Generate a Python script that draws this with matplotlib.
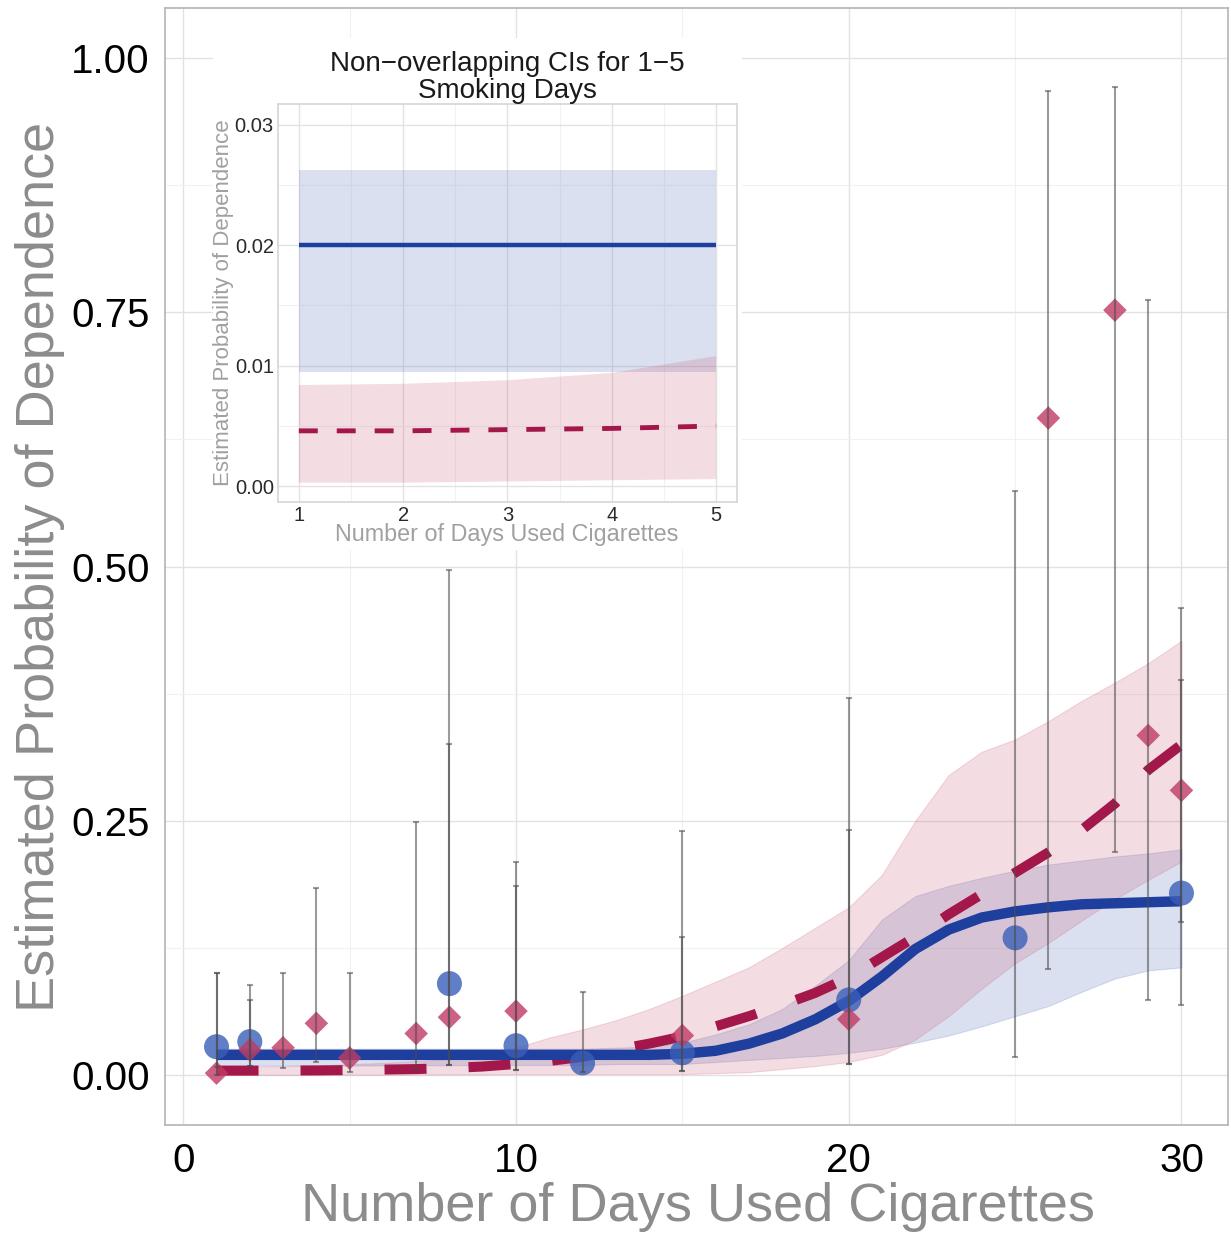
import numpy as np
import matplotlib
matplotlib.use("Agg")
import matplotlib.pyplot as plt
from matplotlib.ticker import MultipleLocator
from matplotlib.patches import Rectangle

plt.rcParams['font.family'] = ['Liberation Sans', 'DejaVu Sans']

# observed proportions with CIs (blue group)
days_blue = [1, 2, 8, 10, 12, 15, 20, 25, 30]
prob_blue = [0.028, 0.033, 0.090, 0.029, 0.012, 0.022, 0.074, 0.135, 0.179]
lo_blue = [0.008, 0.009, 0.010, 0.005, 0.003, 0.004, 0.011, 0.018, 0.069]
hi_blue = [0.100, 0.089, 0.497, 0.186, 0.082, 0.136, 0.371, 0.574, 0.388]

# observed proportions with CIs (red group)
days_red = [1, 2, 3, 4, 5, 7, 8, 10, 15, 20, 26, 28, 29, 30]
prob_red = [0.002, 0.025, 0.027, 0.051, 0.017, 0.041, 0.057, 0.063, 0.039, 0.055, 0.646, 0.752, 0.334, 0.280]
lo_red = [0.000, 0.009, 0.007, 0.013, 0.003, 0.006, 0.010, 0.005, 0.004, 0.011, 0.104, 0.219, 0.074, 0.151]
hi_red = [0.100, 0.074, 0.100, 0.184, 0.100, 0.249, 0.326, 0.210, 0.240, 0.241, 0.967, 0.971, 0.762, 0.459]

# fitted curves and bands
fit_days = list(range(1, 31))
fit_blue = [0.020, 0.020, 0.020, 0.020, 0.020, 0.020, 0.020, 0.020, 0.020, 0.020,
            0.020, 0.020, 0.020, 0.020, 0.021, 0.024, 0.031, 0.041, 0.055, 0.073,
            0.097, 0.124, 0.143, 0.155, 0.161, 0.165, 0.168, 0.169, 0.170, 0.171]
band_blue_lo = [0.0095, 0.0095, 0.0095, 0.0095, 0.0095, 0.0096, 0.0097, 0.0098, 0.0099, 0.010,
                0.010, 0.010, 0.011, 0.011, 0.011, 0.013, 0.015, 0.017, 0.019, 0.022,
                0.026, 0.032, 0.039, 0.048, 0.058, 0.068, 0.082, 0.095, 0.103, 0.106]
band_blue_hi = [0.026, 0.026, 0.026, 0.026, 0.026, 0.026, 0.026, 0.026, 0.026, 0.026,
                0.026, 0.026, 0.027, 0.028, 0.032, 0.040, 0.050, 0.065, 0.088, 0.113,
                0.153, 0.176, 0.186, 0.194, 0.201, 0.207, 0.211, 0.215, 0.218, 0.222]
fit_red = [0.0045, 0.0045, 0.0046, 0.0047, 0.0050, 0.0055, 0.0060, 0.0070, 0.0085, 0.011,
           0.014, 0.018, 0.025, 0.031, 0.038, 0.048, 0.058, 0.069, 0.081, 0.096,
           0.116, 0.136, 0.158, 0.178, 0.199, 0.219, 0.241, 0.267, 0.300, 0.325]
band_red_lo = [0.0003, 0.0003, 0.0003, 0.0004, 0.0005, 0.0005, 0.0006, 0.0007, 0.0008, 0.001,
               0.001, 0.001, 0.001, 0.001, 0.001, 0.002, 0.003, 0.006, 0.009, 0.013,
               0.020, 0.035, 0.058, 0.085, 0.110, 0.130, 0.152, 0.173, 0.192, 0.210]
band_red_hi = [0.0084, 0.0085, 0.0088, 0.0094, 0.0108, 0.012, 0.014, 0.016, 0.020, 0.027,
               0.037, 0.045, 0.054, 0.065, 0.078, 0.092, 0.106, 0.125, 0.145, 0.165,
               0.197, 0.250, 0.295, 0.318, 0.330, 0.348, 0.368, 0.386, 0.405, 0.427]

# inset: 1-5 smoking days
inset_days = [1, 2, 3, 4, 5]
inset_blue = [0.0200, 0.0200, 0.0200, 0.0200, 0.0200]
inset_blue_lo = [0.0095, 0.0095, 0.0095, 0.0095, 0.0095]
inset_blue_hi = [0.0262, 0.0262, 0.0262, 0.0262, 0.0262]
inset_red = [0.0046, 0.0046, 0.0047, 0.0048, 0.0050]
inset_red_lo = [0.0003, 0.0003, 0.0004, 0.0005, 0.0006]
inset_red_hi = [0.0084, 0.0085, 0.0088, 0.0094, 0.0108]

BLUE_LINE = '#1f3f9f'
BLUE_PT = '#3a5fb8'
BLUE_BAND = '#6f86c4'
RED_LINE = '#a3174a'
RED_PT = '#c03a64'
RED_BAND = '#c8566f'


def style_axes(ax, spine_color):
    ax.set_facecolor('white')
    ax.grid(True, which='major', color='#e2e2e2', lw=1.0)
    ax.grid(True, which='minor', color='#f1f1f1', lw=0.8)
    ax.set_axisbelow(True)
    ax.tick_params(which='both', length=0)
    for s in ax.spines.values():
        s.set_color(spine_color)
        s.set_linewidth(1.2)


fig = plt.figure(figsize=(12.31, 12.34), dpi=100)
ax = fig.add_axes([0.134, 0.0883, 0.8636, 0.9052])
style_axes(ax, '#b4b4b4')

ax.fill_between(fit_days, band_blue_lo, band_blue_hi, facecolor=BLUE_BAND, alpha=0.25,
                edgecolor=BLUE_BAND, lw=0.8, zorder=1)
ax.fill_between(fit_days, band_red_lo, band_red_hi, facecolor=RED_BAND, alpha=0.2,
                edgecolor=RED_BAND, lw=0.8, zorder=1)
ax.plot(fit_days, fit_red, color=RED_LINE, lw=7.2, linestyle=(0, (4.2, 4.2)),
        dash_capstyle='butt', zorder=2)
ax.plot(fit_days, fit_blue, color=BLUE_LINE, lw=7.5, solid_capstyle='butt', zorder=2.5)

ax.scatter(days_blue, prob_blue, s=18 ** 2, color=BLUE_PT, alpha=0.8, edgecolors='none', zorder=3)
ax.scatter(days_red, prob_red, s=12 ** 2, marker='D', color=RED_PT, alpha=0.8, edgecolors='none', zorder=3)

pb = np.array(prob_blue)
pr = np.array(prob_red)
ax.errorbar(days_blue, prob_blue, yerr=[pb - np.array(lo_blue), np.array(hi_blue) - pb], fmt='none',
            ecolor='#4a4a4a', alpha=0.55, elinewidth=1.5, capsize=2.5, capthick=1.5, zorder=4)
ax.errorbar(days_red, prob_red, yerr=[pr - np.array(lo_red), np.array(hi_red) - pr], fmt='none',
            ecolor='#4a4a4a', alpha=0.55, elinewidth=1.5, capsize=2.5, capthick=1.5, zorder=4)

ax.set_xlim(-0.55, 31.4)
ax.set_ylim(-0.049, 1.049)
ax.set_xticks([0, 10, 20, 30])
ax.set_yticks([0, 0.25, 0.5, 0.75, 1.0])
ax.set_yticklabels(['0.00', '0.25', '0.50', '0.75', '1.00'])
ax.xaxis.set_minor_locator(MultipleLocator(5))
ax.yaxis.set_minor_locator(MultipleLocator(0.125))
ax.tick_params(axis='both', labelsize=29, colors='black')
ax.tick_params(axis='y', pad=11)
ax.tick_params(axis='x', pad=12)

fig.text(40 / 1231, 1 - 567 / 1234, 'Estimated Probability of Dependence', rotation=90,
         ha='center', va='center', fontsize=39, color='#8c8c8c')
fig.text(698 / 1231, 1 - 1207 / 1234, 'Number of Days Used Cigarettes',
         ha='center', va='center', fontsize=39, color='#8c8c8c')

# white panel behind the inset
fig.patches.append(Rectangle((0.173, 0.554), 0.43, 0.415, transform=fig.transFigure,
                             facecolor='white', edgecolor='none', zorder=1))

ax2 = fig.add_axes([0.2258, 0.5932, 0.3729, 0.3225])
ax2.set_zorder(2)
style_axes(ax2, '#d6d6d6')
ax2.fill_between(inset_days, inset_blue_lo, inset_blue_hi, facecolor=BLUE_BAND, alpha=0.25,
                 edgecolor='none', zorder=1)
ax2.fill_between(inset_days, inset_red_lo, inset_red_hi, facecolor=RED_BAND, alpha=0.2,
                 edgecolor='none', zorder=1)
ax2.plot(inset_days, inset_red, color=RED_LINE, lw=3.5, linestyle=(0, (3.9, 3.9)),
         dash_capstyle='butt', zorder=2)
ax2.plot(inset_days, inset_blue, color=BLUE_LINE, lw=3.2, solid_capstyle='butt', zorder=2.5)
ax2.set_xlim(0.8, 5.2)
ax2.set_ylim(-0.0013, 0.0317)
ax2.set_xticks([1, 2, 3, 4, 5])
ax2.set_yticks([0, 0.01, 0.02, 0.03])
ax2.set_yticklabels(['0.00', '0.01', '0.02', '0.03'])
ax2.xaxis.set_minor_locator(MultipleLocator(0.5))
ax2.yaxis.set_minor_locator(MultipleLocator(0.005))
ax2.tick_params(axis='both', labelsize=14.5, colors='#2a2a2a', pad=3)
ax2.set_title('Non\u2212overlapping CIs for 1\u22125\nSmoking Days', fontsize=20, color='#1a1a1a',
              pad=4, linespacing=1.05)

fig.text(507 / 1231, 1 - 535 / 1234, 'Number of Days Used Cigarettes',
         ha='center', va='center', fontsize=16.8, color='#a0a0a0', zorder=3)
fig.text(224 / 1231, 1 - 303 / 1234, 'Estimated Probability of Dependence', rotation=90,
         ha='center', va='center', fontsize=16, color='#a0a0a0', zorder=3)

fig.savefig('out.png', dpi=100, facecolor='white')
